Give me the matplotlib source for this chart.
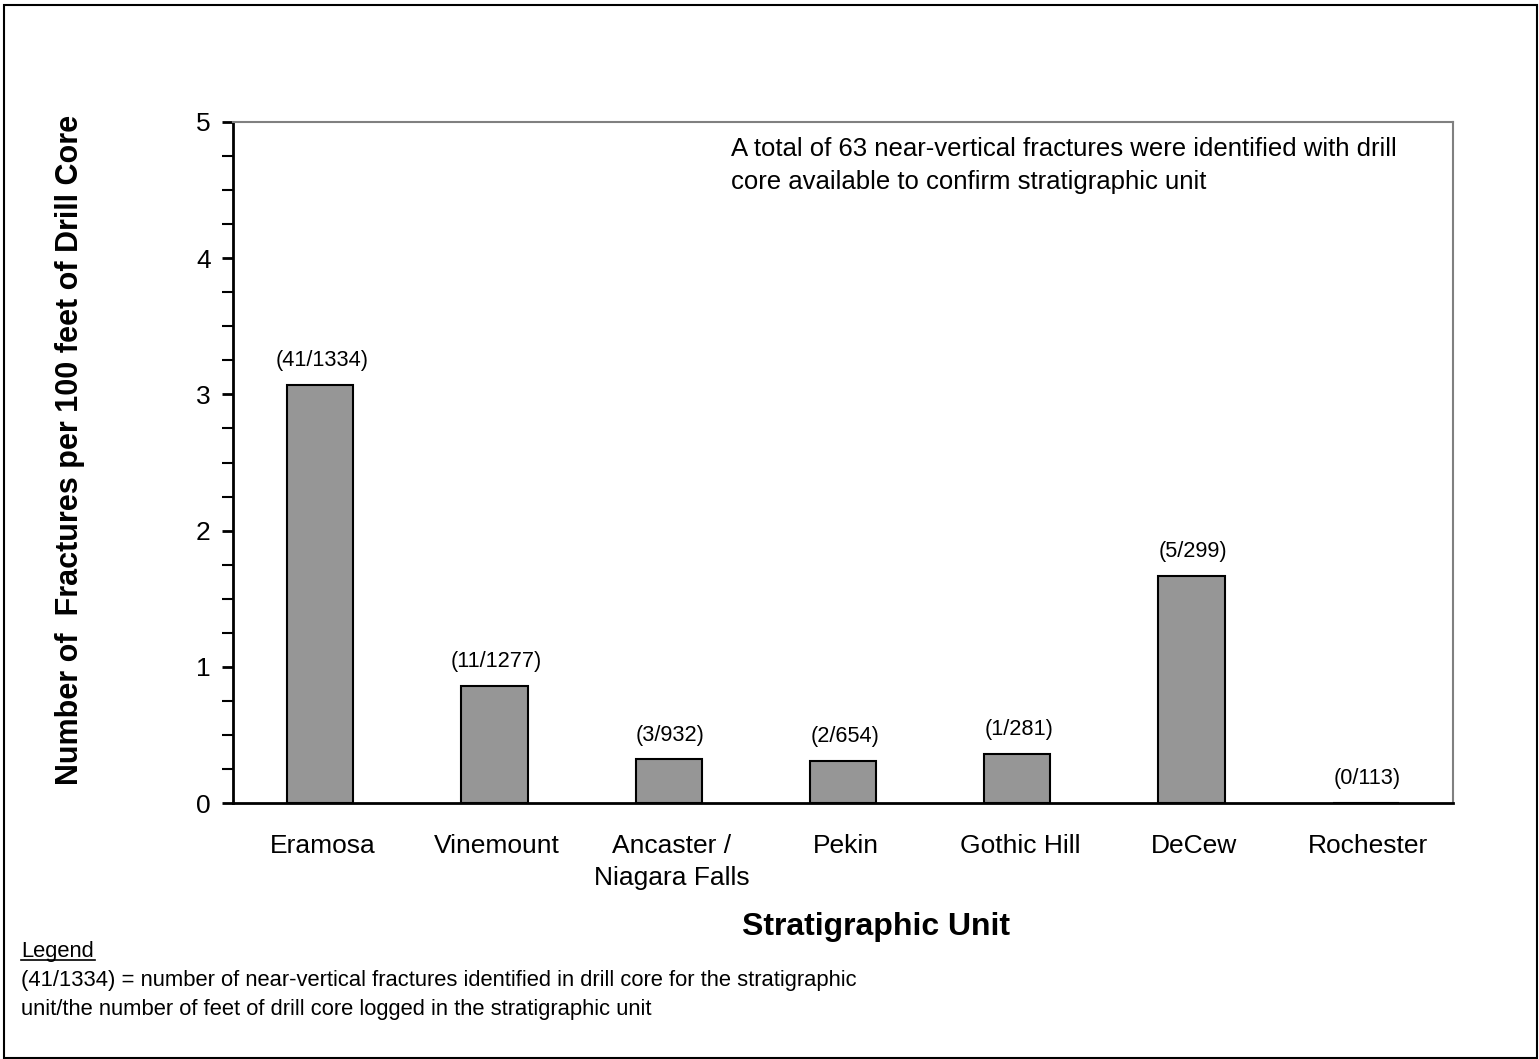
import numpy as np
import matplotlib
matplotlib.use("Agg")
import matplotlib.pyplot as plt
from matplotlib.patches import Rectangle
from matplotlib.ticker import MultipleLocator

plt.rcParams['font.family'] = ['Liberation Sans', 'DejaVu Sans']

######### data
units = ['Eramosa', 'Vinemount', 'Ancaster /\nNiagara Falls', 'Pekin',
         'Gothic Hill', 'DeCew', 'Rochester']
rate = [3.07, 0.86, 0.32, 0.31, 0.36, 1.67, 0.0]   # fractures per 100 ft
counts = ['(41/1334)', '(11/1277)', '(3/932)', '(2/654)', '(1/281)',
          '(5/299)', '(0/113)']

fig = plt.figure(figsize=(15.39, 10.59), dpi=100)
ax = fig.add_axes([0.1514, 0.2417, 0.7927, 0.6431])

x = np.arange(len(units))
ax.bar(x, rate, width=0.38, color='#969696', edgecolor='black', linewidth=1.5)

for xi, r, c in zip(x, rate, counts):
    ax.text(xi + 0.01, r + 0.1, c, ha='center', va='bottom', fontsize=15.7)

ax.set_xlim(-0.5, len(units) - 0.5)
ax.set_ylim(0, 5)
ax.set_xticks(x + 0.015)
ax.set_xticklabels(units, fontsize=19, linespacing=1.45, va='top')
ax.tick_params(axis='x', length=0, pad=22)
ax.yaxis.set_major_locator(MultipleLocator(1))
ax.yaxis.set_minor_locator(MultipleLocator(0.25))
ax.tick_params(axis='y', which='major', length=8, width=2, labelsize=19, pad=8)
ax.tick_params(axis='y', which='minor', length=8, width=1.5)

ax.spines['left'].set_linewidth(2)
ax.spines['bottom'].set_linewidth(2)
ax.spines['top'].set_color('#808080')
ax.spines['right'].set_color('#808080')
ax.spines['top'].set_linewidth(1.5)
ax.spines['right'].set_linewidth(1.5)

ax.text(0.408, 0.978, 'A total of 63 near-vertical fractures were identified with drill\n'
        'core available to confirm stratigraphic unit',
        transform=ax.transAxes, ha='left', va='top', fontsize=18.5, linespacing=1.5)

fig.text(876 / 1539, 1 - 927 / 1059, 'Stratigraphic Unit', ha='center', va='center',
         fontsize=23, fontweight='bold')
fig.text(70 / 1539, 1 - 450 / 1059, 'Number of  Fractures per 100 feet of Drill Core',
         rotation=90, ha='center', va='center', fontsize=22, fontweight='bold')

fig.text(21 / 1539, 1 - 957 / 1059, 'Legend', ha='left', va='baseline', fontsize=15.8)
fig.add_artist(plt.Line2D([21 / 1539, 95 / 1539], [1 - 960 / 1059, 1 - 960 / 1059],
                          color='black', linewidth=1.2))
fig.text(21 / 1539, 1 - 986 / 1059,
         '(41/1334) = number of near-vertical fractures identified in drill core for the stratigraphic',
         ha='left', va='baseline', fontsize=15.8)
fig.text(21 / 1539, 1 - 1015 / 1059,
         'unit/the number of feet of drill core logged in the stratigraphic unit',
         ha='left', va='baseline', fontsize=15.8)

fig.add_artist(Rectangle((4 / 1539, 1 / 1059), 1533 / 1539, 1053 / 1059,
                         transform=fig.transFigure, fill=False, edgecolor='black',
                         linewidth=1.5))

fig.savefig('out.png', dpi=100)
